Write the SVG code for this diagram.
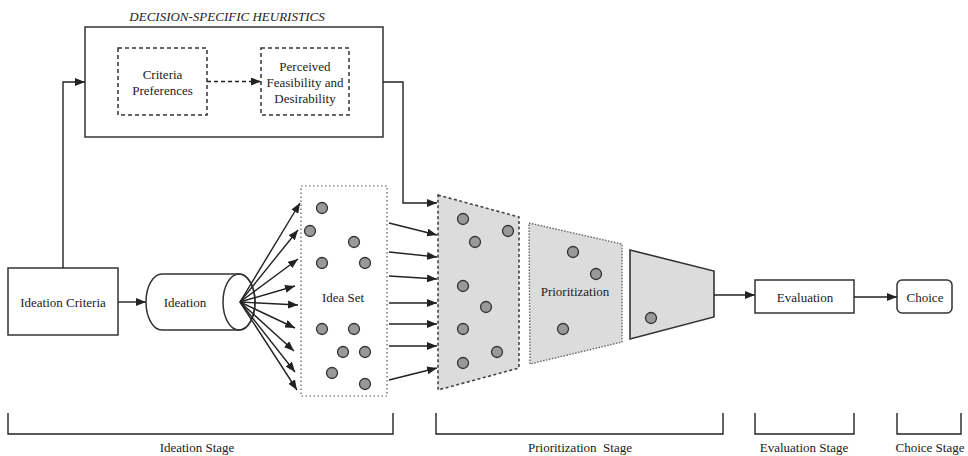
<svg xmlns="http://www.w3.org/2000/svg" width="968" height="456" viewBox="0 0 968 456" font-family="'Liberation Serif', 'Times New Roman', serif">
<defs>
<marker id="ah" markerUnits="userSpaceOnUse" markerWidth="10" markerHeight="8" refX="10" refY="4" orient="auto"><path d="M0,0 L10,4 L0,8 z" fill="#222"/></marker>
<style>
text{font-family:'Liberation Serif','Times New Roman',serif;font-size:13px;fill:#222;text-anchor:middle;dominant-baseline:central}
.box{fill:#fff;stroke:#333;stroke-width:1.5}
.dash{fill:#fff;stroke:#333;stroke-width:1.5;stroke-dasharray:4 3}
.dot{fill:#999;stroke:#333;stroke-width:1.3}
.ln{fill:none;stroke:#222;stroke-width:1.4}
.ar{fill:none;stroke:#222;stroke-width:1.4;marker-end:url(#ah)}
</style>
</defs>
<rect width="968" height="456" fill="#fff"/>
<g id="heuristics">
<text x="227" y="16" font-style="italic">DECISION-SPECIFIC HEURISTICS</text>
<rect class="box" x="85" y="27" width="298" height="110"/>
</g>
<g id="criteria-preferences">
<rect class="dash" x="118" y="48" width="89" height="67"/>
<text x="162.5" y="74">Criteria</text>
<text x="162.5" y="90">Preferences</text>
</g>
<g id="perceived">
<rect class="dash" x="261" y="48" width="88" height="67"/>
<text x="305" y="66">Perceived</text>
<text x="305" y="82">Feasibility and</text>
<text x="305" y="98">Desirability</text>
</g>
<g id="ideation-criteria">
<rect class="box" x="8" y="268" width="110" height="67"/>
<text x="63" y="302">Ideation Criteria</text>
</g>
<g id="ideation">
<path class="box" d="M162,274 L239,274 A16,28 0 0 1 239,330 L162,330 A16,28 0 0 1 162,274 Z"/>
<ellipse cx="239" cy="302" rx="16" ry="28" fill="none" stroke="#333" stroke-width="1.5"/>
<text x="185" y="302">Ideation</text>
</g>
<g id="idea-set">
<rect x="301" y="186" width="86" height="210" fill="#fff" stroke="#555" stroke-width="1.2" stroke-dasharray="1.5 2.5"/>
<text x="343" y="297">Idea Set</text>
<circle class="dot" cx="322" cy="208" r="5.5"/>
<circle class="dot" cx="310" cy="231" r="5.5"/>
<circle class="dot" cx="354" cy="242" r="5.5"/>
<circle class="dot" cx="322" cy="263" r="5.5"/>
<circle class="dot" cx="365" cy="263" r="5.5"/>
<circle class="dot" cx="322" cy="329" r="5.5"/>
<circle class="dot" cx="354" cy="329" r="5.5"/>
<circle class="dot" cx="343" cy="352" r="5.5"/>
<circle class="dot" cx="365" cy="352" r="5.5"/>
<circle class="dot" cx="332" cy="373" r="5.5"/>
<circle class="dot" cx="365" cy="384" r="5.5"/>
</g>
<g id="filter-1">
<polygon points="438,195 519,217 519,368 438,390" fill="#dcdcdc" stroke="#444" stroke-width="1.6" stroke-dasharray="3 2.5"/>
<circle class="dot" cx="463" cy="219" r="5.5"/>
<circle class="dot" cx="508" cy="231" r="5.5"/>
<circle class="dot" cx="475" cy="242" r="5.5"/>
<circle class="dot" cx="463" cy="286" r="5.5"/>
<circle class="dot" cx="486" cy="307" r="5.5"/>
<circle class="dot" cx="463" cy="329" r="5.5"/>
<circle class="dot" cx="497" cy="352" r="5.5"/>
<circle class="dot" cx="463" cy="363" r="5.5"/>
</g>
<g id="prioritization">
<polygon points="529,223 622,244 622,342 530,364" fill="#dcdcdc" stroke="#666" stroke-width="1.4" stroke-dasharray="1.5 1.5"/>
<text x="575" y="291">Prioritization</text>
<circle class="dot" cx="573" cy="252" r="5.5"/>
<circle class="dot" cx="596" cy="274" r="5.5"/>
<circle class="dot" cx="563" cy="329" r="5.5"/>
</g>
<g id="filter-3">
<polygon points="630,250 714,271 714,317 630,339" fill="#dcdcdc" stroke="#333" stroke-width="1.6"/>
<circle class="dot" cx="651" cy="318" r="5.5"/>
</g>
<g id="evaluation">
<rect class="box" x="755" y="280" width="99" height="33"/>
<text x="805" y="297">Evaluation</text>
</g>
<g id="choice">
<rect class="box" x="897" y="280" width="55" height="33" rx="5"/>
<text x="925" y="297">Choice</text>
</g>
<g id="connectors">
<path class="ar" d="M207,81.5 L261,81.5" stroke-dasharray="4 3"/>
<path class="ar" d="M63,268 L63,82 L85,82"/>
<path class="ar" d="M383,82 L403,82 L403,203 L437,203"/>
<path class="ar" d="M118,302 L146,302"/>
<path class="ar" d="M240,302 L300,203"/>
<path class="ar" d="M240,302 L298,230"/>
<path class="ar" d="M240,302 L298,259"/>
<path class="ar" d="M240,302 L295,286"/>
<path class="ar" d="M240,302 L298,305"/>
<path class="ar" d="M240,302 L295,328"/>
<path class="ar" d="M240,302 L294,351"/>
<path class="ar" d="M240,302 L295,372"/>
<path class="ar" d="M240,302 L297,390"/>
<path class="ar" d="M389,223 L437,235"/>
<path class="ar" d="M389,252 L437,257"/>
<path class="ar" d="M389,276 L437,279"/>
<path class="ar" d="M389,303 L437,303"/>
<path class="ar" d="M389,324 L437,324"/>
<path class="ar" d="M389,346 L437,346"/>
<path class="ar" d="M389,380 L437,368"/>
<path class="ar" d="M714,295 L755,295"/>
<path class="ar" d="M854,297 L897,297"/>
</g>
<g id="stages">
<path class="ln" d="M8,413 L8,434 L393,434 L393,413"/>
<text x="197" y="447">Ideation Stage</text>
<path class="ln" d="M436,413 L436,434 L723,434 L723,413"/>
<text x="580" y="447" xml:space="preserve">Prioritization  Stage</text>
<path class="ln" d="M755,413 L755,434 L854,434 L854,413"/>
<text x="804" y="447">Evaluation Stage</text>
<path class="ln" d="M897,413 L897,434 L961,434 L961,413"/>
<text x="930" y="447">Choice Stage</text>
</g>
</svg>
